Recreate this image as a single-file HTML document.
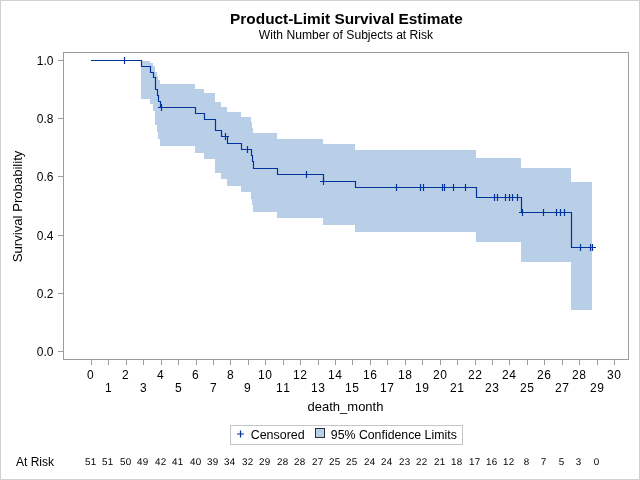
<!DOCTYPE html>
<html><head><meta charset="utf-8"><title>Product-Limit Survival Estimate</title>
<style>
html,body{margin:0;padding:0;background:#fff;}
body{width:640px;height:480px;overflow:hidden;font-family:"Liberation Sans",sans-serif;}
svg{display:block;font-family:"Liberation Sans",sans-serif;will-change:transform;}
text{fill:#000;}
</style></head><body>
<svg width="640" height="480" viewBox="0 0 640 480">
<rect x="0.5" y="0.5" width="639" height="479" fill="#fff" stroke="#d1d1d1" stroke-width="1"/>
<path d="M141,61 L150,61 L150,63 L153,63 L153,66 L155,66 L155,72 L157,72 L157,76 L158,76 L158,80 L160,80 L160,84 L195,84 L195,89 L204,89 L204,93 L215,93 L215,102 L221,102 L221,107 L227,107 L227,112 L241,112 L241,117 L251,117 L251,122 L252,122 L252,128 L253,128 L253,133 L277,133 L277,139 L323,139 L323,144 L355,144 L355,150 L476,150 L476,158 L521,158 L521,168 L571,168 L571,182 L592,182 L592,310 L571,310 L571,262 L521,262 L521,242 L476,242 L476,232 L355,232 L355,225 L323,225 L323,218 L277,218 L277,212 L253,212 L253,205 L252,205 L252,199 L251,199 L251,192 L241,192 L241,186 L227,186 L227,179 L221,179 L221,173 L215,173 L215,159 L204,159 L204,153 L195,153 L195,146 L160,146 L160,139 L158,139 L158,132 L157,132 L157,125 L155,125 L155,111 L153,111 L153,104 L150,104 L150,99 L141,99Z" fill="#b9cfe7"/>
<path d="M91.0,60.5H141.5V66.5H150.5V72.5H153.5V77.5H155.5V89.5H157.5V95.5H158.5V101.5H160.5V107.5H195.5V113.5H204.5V119.5H215.5V130.5H221.5V136.5H227.5V143.5H241.5V149.5H251.5V155.5H252.5V161.5H253.5V168.5H277.5V174.5H323.5V181.5H355.5V187.5H476.5V197.5H521.5V212.5H571.5V247.5H593.0" fill="none" stroke="#01339a" stroke-width="1.2"/>
<path d="M121.0,60.5h7M124.5,57.0v7M158.0,107.5h7M161.5,104.0v7M222.0,136.5h7M225.5,133.0v7M244.0,149.5h7M247.5,146.0v7M303.0,174.5h7M306.5,171.0v7M320.0,181.5h7M323.5,178.0v7M393.0,187.5h7M396.5,184.0v7M417.0,187.5h7M420.5,184.0v7M420.0,187.5h7M423.5,184.0v7M439.0,187.5h7M442.5,184.0v7M441.0,187.5h7M444.5,184.0v7M450.0,187.5h7M453.5,184.0v7M462.0,187.5h7M465.5,184.0v7M491.0,197.5h7M494.5,194.0v7M494.0,197.5h7M497.5,194.0v7M502.0,197.5h7M505.5,194.0v7M506.0,197.5h7M509.5,194.0v7M509.0,197.5h7M512.5,194.0v7M514.0,197.5h7M517.5,194.0v7M519.0,212.5h7M522.5,209.0v7M540.0,212.5h7M543.5,209.0v7M553.0,212.5h7M556.5,209.0v7M557.0,212.5h7M560.5,209.0v7M561.0,212.5h7M564.5,209.0v7M577.0,247.5h7M580.5,244.0v7M587.0,247.5h7M590.5,244.0v7M589.0,247.5h7M592.5,244.0v7" fill="none" stroke="#01339a" stroke-width="1.2"/>
<rect x="63.5" y="52.5" width="565" height="307" fill="none" stroke="#989ea1" stroke-width="1"/>
<path d="M91.5,360v5M108.5,360v5M126.5,360v5M143.5,360v5M161.5,360v5M178.5,360v5M196.5,360v5M213.5,360v5M230.5,360v5M248.5,360v5M265.5,360v5M283.5,360v5M300.5,360v5M318.5,360v5M335.5,360v5M352.5,360v5M370.5,360v5M387.5,360v5M405.5,360v5M422.5,360v5M440.5,360v5M457.5,360v5M475.5,360v5M492.5,360v5M509.5,360v5M527.5,360v5M544.5,360v5M562.5,360v5M579.5,360v5M597.5,360v5M614.5,360v5M58,351.5h5M58,293.5h5M58,235.5h5M58,176.5h5M58,118.5h5M58,60.5h5" fill="none" stroke="#989ea1" stroke-width="1"/>
<g font-size="12px">
<text x="53.5" y="356.0" text-anchor="end">0.0</text><text x="53.5" y="298.0" text-anchor="end">0.2</text><text x="53.5" y="240.0" text-anchor="end">0.4</text><text x="53.5" y="181.0" text-anchor="end">0.6</text><text x="53.5" y="123.0" text-anchor="end">0.8</text><text x="53.5" y="65.0" text-anchor="end">1.0</text>
</g>
<g font-size="12px" lengthAdjust="spacingAndGlyphs">
<text x="87" y="379.2" textLength="7.0">0</text><text x="105" y="392.2" textLength="7.0">1</text><text x="122" y="379.2" textLength="7.0">2</text><text x="140" y="392.2" textLength="7.0">3</text><text x="157" y="379.2" textLength="7.0">4</text><text x="175" y="392.2" textLength="7.0">5</text><text x="192" y="379.2" textLength="7.0">6</text><text x="210" y="392.2" textLength="7.0">7</text><text x="227" y="379.2" textLength="7.0">8</text><text x="244" y="392.2" textLength="7.0">9</text><text x="258" y="379.2" textLength="14.0">10</text><text x="276" y="392.2" textLength="14.0">11</text><text x="293" y="379.2" textLength="14.0">12</text><text x="311" y="392.2" textLength="14.0">13</text><text x="328" y="379.2" textLength="14.0">14</text><text x="345" y="392.2" textLength="14.0">15</text><text x="363" y="379.2" textLength="14.0">16</text><text x="380" y="392.2" textLength="14.0">17</text><text x="398" y="379.2" textLength="14.0">18</text><text x="415" y="392.2" textLength="14.0">19</text><text x="433" y="379.2" textLength="14.0">20</text><text x="450" y="392.2" textLength="14.0">21</text><text x="468" y="379.2" textLength="14.0">22</text><text x="485" y="392.2" textLength="14.0">23</text><text x="502" y="379.2" textLength="14.0">24</text><text x="520" y="392.2" textLength="14.0">25</text><text x="537" y="379.2" textLength="14.0">26</text><text x="555" y="392.2" textLength="14.0">27</text><text x="572" y="379.2" textLength="14.0">28</text><text x="590" y="392.2" textLength="14.0">29</text><text x="607" y="379.2" textLength="14.0">30</text>
</g>
<g font-size="9.8px" lengthAdjust="spacingAndGlyphs" style="text-rendering:geometricPrecision">
<text x="84.9" y="465" textLength="11.2">51</text><text x="101.9" y="465" textLength="11.2">51</text><text x="119.9" y="465" textLength="11.2">50</text><text x="136.9" y="465" textLength="11.2">49</text><text x="154.9" y="465" textLength="11.2">42</text><text x="171.9" y="465" textLength="11.2">41</text><text x="189.9" y="465" textLength="11.2">40</text><text x="206.9" y="465" textLength="11.2">39</text><text x="223.9" y="465" textLength="11.2">34</text><text x="241.9" y="465" textLength="11.2">32</text><text x="258.9" y="465" textLength="11.2">29</text><text x="276.9" y="465" textLength="11.2">28</text><text x="293.9" y="465" textLength="11.2">28</text><text x="311.9" y="465" textLength="11.2">27</text><text x="328.9" y="465" textLength="11.2">25</text><text x="345.9" y="465" textLength="11.2">25</text><text x="363.9" y="465" textLength="11.2">24</text><text x="380.9" y="465" textLength="11.2">24</text><text x="398.9" y="465" textLength="11.2">23</text><text x="415.9" y="465" textLength="11.2">22</text><text x="433.9" y="465" textLength="11.2">21</text><text x="450.9" y="465" textLength="11.2">18</text><text x="468.9" y="465" textLength="11.2">17</text><text x="485.9" y="465" textLength="11.2">16</text><text x="502.9" y="465" textLength="11.2">12</text><text x="523.7" y="465" textLength="5.6">8</text><text x="540.7" y="465" textLength="5.6">7</text><text x="558.7" y="465" textLength="5.6">5</text><text x="575.7" y="465" textLength="5.6">3</text><text x="593.7" y="465" textLength="5.6">0</text>
</g>
<text x="16" y="466" font-size="12px">At Risk</text>
<text x="346.4" y="24" font-size="14.5px" font-weight="bold" text-anchor="middle" textLength="232.6" lengthAdjust="spacingAndGlyphs">Product-Limit Survival Estimate</text>
<text x="346" y="39" font-size="12px" text-anchor="middle" textLength="174.3" lengthAdjust="spacingAndGlyphs">With Number of Subjects at Risk</text>
<text x="345.5" y="410.7" font-size="13px" text-anchor="middle">death_month</text>
<text transform="translate(22.2,206.4) rotate(-90)" font-size="13px" text-anchor="middle" textLength="111.6" lengthAdjust="spacingAndGlyphs">Survival Probability</text>
<rect x="230.5" y="425.5" width="232" height="19" fill="#fff" stroke="#c3c6c9" stroke-width="1"/>
<path d="M237,434h7M240.5,430.5v7" fill="none" stroke="#01339a" stroke-width="1.2"/>
<text x="250.7" y="438.7" font-size="12px" textLength="54" lengthAdjust="spacingAndGlyphs">Censored</text>
<rect x="315.5" y="428.5" width="9" height="9" fill="#b9cfe7" stroke="#2a2f3a" stroke-width="1"/>
<text x="330.8" y="438.7" font-size="12px" textLength="126" lengthAdjust="spacingAndGlyphs">95% Confidence Limits</text>
</svg>
</body></html>
